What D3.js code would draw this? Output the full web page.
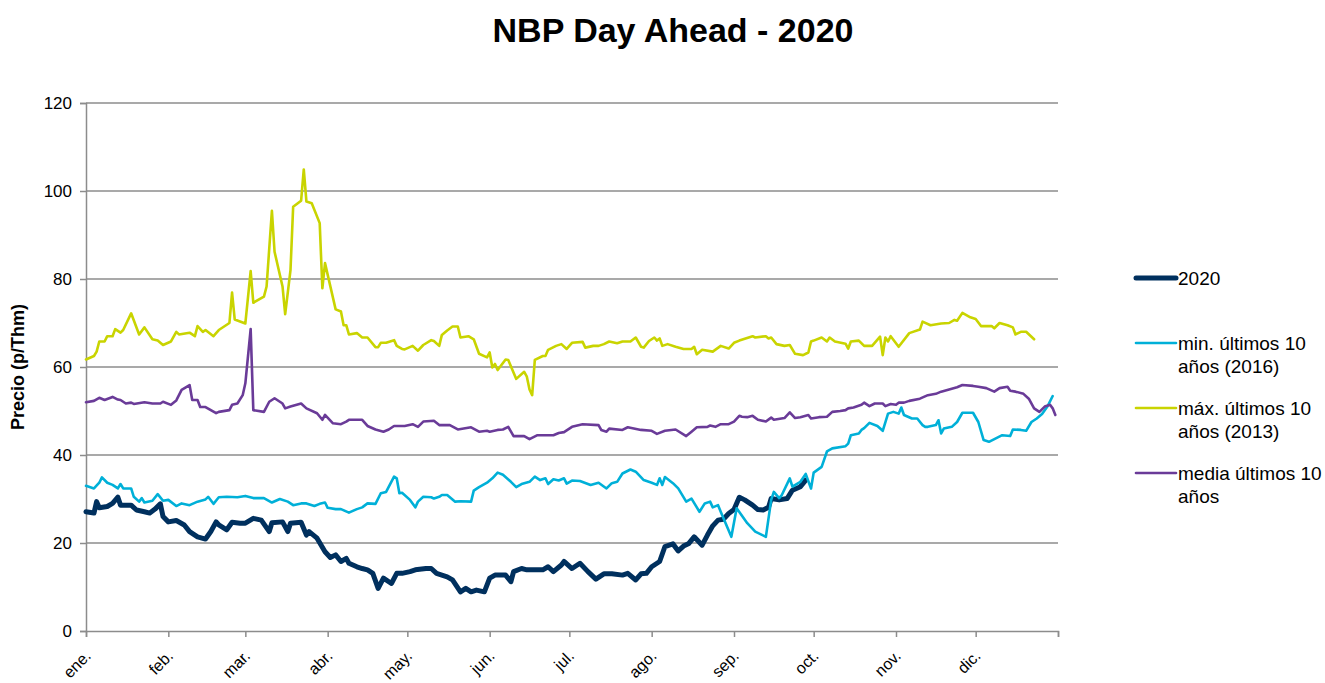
<!DOCTYPE html>
<html><head><meta charset="utf-8">
<script src="https://cdn.jsdelivr.net/npm/d3@7"></script>
<style>body{margin:0;background:#fff;font-family:"Liberation Sans",Arial,sans-serif}</style>
</head><body><svg id="c" width="1325" height="683"></svg>
<script>
// Day offsets from 1 Jan 2020 and prices (p/Thm)
const days2020 = [0,3,4,5,8,10,12,13,17,19,22,24,26,28,29,31,34,37,39,42,45,47,49,50,53,55,58,60,63,66,69,70,74,76,77,81,83,84,87,90,92,94,96,98,99,102,104,106,108,110,112,115,117,119,122,124,128,130,132,136,138,141,143,145,147,150,152,154,156,158,160,161,164,166,170,172,174,176,179,180,183,186,189,192,195,198,202,204,207,209,211,213,216,218,221,223,225,227,229,232,234,236,238,240,242,244,246,248,249,251,253,255,257,258,261,264,266,269,271];
const vals2020 = [27.1,26.8,29.4,28,28.3,29,30.4,28.6,28.6,27.5,27.1,26.8,27.7,28.9,26,24.8,25.1,24.1,22.6,21.4,20.9,22.6,24.8,24.1,23,24.7,24.5,24.5,25.6,25.2,22.6,24.6,24.8,22.6,24.5,24.7,21.8,22.6,21.1,18,16.7,17.3,15.8,16.5,15.4,14.6,14.2,13.9,13.1,9.7,12,10.8,13.1,13.1,13.5,13.9,14.2,14.2,13.1,12.3,11.6,8.9,9.7,8.9,9.3,8.9,12,12.7,12.7,12.7,11.2,13.5,14.2,13.9,13.9,13.9,14.6,13.5,15,15.8,14.2,15.4,13.5,11.8,13,13,12.7,13.1,11.6,13,13.1,14.6,15.8,19.2,19.8,18.2,19.3,19.9,21.4,19.5,21.8,23.9,25.2,25.4,26.7,27.6,30.4,29.8,29.4,28.6,27.6,27.5,28.1,30.1,29.8,30.1,32,32.8,34.3];

const daysMin = [0,3,5,6,8,10,12,13,14,17,18,20,21,22,25,27,29,31,34,36,39,42,45,46,48,50,53,57,60,63,67,70,73,76,78,81,83,86,88,90,91,94,96,99,102,104,106,109,111,113,116,117,118,119,122,124,125,127,130,131,133,134,136,139,141,145,146,148,151,153,155,157,160,162,164,167,169,171,173,174,176,178,180,181,183,186,190,193,196,198,200,202,205,207,210,213,215,216,217,218,221,223,226,228,231,233,235,236,238,239,243,245,249,252,256,258,259,261,262,265,266,269,271,273,274,277,279,281,286,287,288,291,292,293,295,298,300,302,304,306,307,308,311,313,315,316,317,320,321,322,323,326,328,330,334,336,338,340,345,348,349,352,354,356,358,360,362,364];
const valsMin = [33,32.4,33.7,34.9,33.7,33.2,32.4,33.4,32.4,32.4,30.5,29.4,30.2,29.2,29.6,31.1,29.6,29.8,28.4,29,28.6,29.4,29.9,30.5,28.9,30.4,30.5,30.4,30.7,30.2,30.2,29.2,30,29.4,28.6,29,29,28.4,28.9,29.2,28,27.7,27.7,26.9,27.7,28.1,29,28.9,31.3,31.6,35.1,34.7,31.3,31.4,29.8,28.1,29.4,30.5,30.4,30.1,30.5,30.9,30.9,29.4,29.5,29.4,31.9,32.7,33.7,34.7,36,35.5,33.9,32.7,33.4,33.9,35.1,34.3,34.7,33.4,34.5,34.2,34.7,33.5,34.2,34.1,33.2,33.7,32.4,33.6,33.9,35.8,36.7,36.2,34.3,33.7,33.2,34.7,33.2,35,33.6,32.4,29.4,30.1,27.1,29,29.4,28.1,28.6,27.1,21.4,27.9,24.5,22.6,21.4,29.8,31.6,30.2,30.9,34.7,32.8,33.9,35.7,32.4,36,37.3,40.8,41.5,42,42.6,44.5,44.9,45.7,46.1,47.3,46.6,45.5,49.4,49.8,49.4,50.8,49.1,48.3,48.3,46.8,46.4,46.4,46.8,47.9,44.9,46,46.4,47.5,49.6,49.6,47.5,43.4,43,44.5,44.3,45.8,45.7,45.5,47.5,48.3,49.3,51,53.4];

const daysMax = [0,3,4,5,7,8,10,11,13,14,17,20,22,25,27,29,32,34,35,39,41,42,44,45,48,50,54,55,56,60,62,63,67,68,70,71,74,75,77,78,81,82,83,85,88,89,90,94,96,97,98,99,102,104,106,109,110,111,113,116,117,119,120,123,125,127,130,131,133,134,136,138,140,141,144,146,148,151,152,153,154,155,158,159,162,165,166,167,168,169,172,173,174,177,179,181,183,187,188,191,193,195,197,200,202,205,207,209,210,212,214,215,216,217,219,222,225,228,229,230,232,236,239,242,244,246,251,252,256,257,258,260,263,265,267,270,272,273,274,277,279,280,282,286,287,288,291,293,296,299,300,301,302,303,306,310,314,315,318,322,325,327,328,330,333,335,337,341,342,344,347,349,350,352,354,357];
const valsMax = [61.7,62.5,63.5,65.8,65.8,67,67,68.6,67.8,68.4,72.2,67.4,69,66.3,66,65,65.8,68,67.4,67.8,67,69.3,68,68.4,67,68.4,70,76.9,70.8,69.9,81.8,74.6,76,78.3,95.5,86.2,78.3,72,82,96.4,97.8,104.9,97.6,97.2,92.7,77.9,83.6,73.1,72.6,69.5,69.5,67.4,67.7,66.7,66.7,64.5,64.5,65.5,65.5,66.1,64.8,64.1,64,64.8,63.7,65,66.1,65.9,64.8,67.3,68.3,69.2,69.2,66.7,67,66.3,63,62.2,63.3,59.9,60.7,59.3,61.7,61.6,57.3,58.9,57.8,54.9,53.6,61.6,62.5,62.5,63.9,64.8,65.2,64.1,65.5,65.7,64.4,64.8,64.8,65.2,65.8,65.4,65.8,65.8,66.7,64.6,64.4,65.9,66.7,66,66.5,64.8,65.2,64.6,64.1,64.1,64.6,62.9,63.9,63.5,64.8,64.2,65.5,66,67,66.7,67,66.5,66.7,65.2,64.8,65,63,62.7,63.3,65.8,66,66.7,65.8,66.7,65.8,65.3,64.2,65.8,66,64.8,64.8,66.9,62.7,66.7,65.8,67,64.6,67.7,68.5,70.3,69.5,69.9,70,70.7,70.5,72.3,71.3,70.9,69.3,69.3,68.8,70,69.5,69,67.4,68,68,66.3];

const daysAvg = [0,3,5,7,10,12,13,15,17,18,22,25,28,29,32,34,36,39,40,42,43,45,49,50,54,55,57,59,60,62,63,67,69,71,74,75,77,81,83,87,89,90,93,96,98,99,104,106,109,112,114,116,120,123,125,127,131,133,137,140,145,148,151,152,155,157,159,161,165,167,170,176,178,180,183,187,193,194,196,197,202,204,209,213,215,218,222,226,228,230,234,235,237,239,242,244,246,247,249,251,253,256,258,259,263,265,267,269,272,273,276,279,281,284,286,287,289,292,293,295,297,300,301,303,305,306,308,310,314,317,320,322,325,328,330,334,336,339,342,344,347,348,350,353,355,357,359,361,363,364,365];
const valsAvg = [52,52.3,53,52.5,53.2,52.6,52.5,51.7,51.9,51.6,52,51.7,51.7,52.1,51.4,52.4,54.8,55.9,52.5,52.5,50.9,50.9,49.5,49.8,50.2,51.4,51.7,53.6,56.3,68.6,50.2,49.8,52.1,52.9,51.7,50.6,51,51.7,50.6,49.5,48,49.1,47.2,47,47.6,48,48,46.6,45.8,45.3,45.8,46.6,46.6,47,46.4,47.6,47.8,46.8,46.8,45.8,46.3,45.3,45.5,45.3,45.7,45.8,46.4,44.3,44.3,43.6,44.5,44.5,45,45.2,46.4,47,46.8,45.7,45.3,46,45.7,46.3,45.7,45.5,44.8,45.5,45.8,44.3,45.3,46.3,46.4,46.7,46.4,47,47,47.6,48.9,48.7,48.6,48.9,48,47.6,48.5,48,48.4,49.7,48.4,48.6,49.1,48.3,48.6,48.7,49.8,50,50.2,50.6,50.8,51.4,51.9,51.1,51.7,51.7,51.1,51.6,51.4,51.9,51.9,52.3,52.8,53.6,53.9,54.4,54.9,55.4,55.9,55.7,55.5,55.2,54.4,55.2,55.5,54.6,54.4,53.9,52.8,50.6,49.8,51,51.4,50.6,49.1];

const monthLabels = ["ene.","feb.","mar.","abr.","may.","jun.","jul.","ago.","sep.","oct.","nov.","dic."];
const yTicks = [0,20,40,60,80,100,120];
const legendLines = [["2020"],["min. últimos 10","años (2016)"],["máx. últimos 10","años (2013)"],["media últimos 10","años"]];

const start = new Date(2020,0,1), end = new Date(2021,0,1);
const toDate = d => d3.timeDay.offset(start, d);

const svg = d3.select("#c");
const L = 86, R = 1058, T = 103, B = 631;
const x = d3.scaleTime().domain([start,end]).range([L,R]);
const y = d3.scaleLinear().domain([0,120]).range([B,T]);

svg.append("text").attr("x",673).attr("y",42).attr("text-anchor","middle")
  .attr("font-size",34).attr("font-weight","bold").text("NBP Day Ahead - 2020");

// gridlines
svg.append("g").selectAll("line").data(yTicks.filter(v=>v>0)).join("line")
  .attr("x1",L).attr("x2",R).attr("y1",d=>y(d)).attr("y2",d=>y(d))
  .attr("stroke","#8c8c8c").attr("stroke-width",1.5);

// y axis
const ya = svg.append("g").attr("transform",`translate(${L},0)`)
  .call(d3.axisLeft(y).tickValues(yTicks).tickSize(6).tickPadding(8));
ya.select(".domain").attr("stroke","#8c8c8c").attr("stroke-width",1.5);
ya.selectAll(".tick line").attr("stroke","#8c8c8c").attr("stroke-width",1.5);
ya.selectAll("text").attr("font-size",17).attr("font-family","Liberation Sans, Arial").attr("fill","#000");

// x axis
const months = d3.timeMonth.range(start, d3.timeDay.offset(end,1));
const xa = svg.append("g").attr("transform",`translate(0,${B})`)
  .call(d3.axisBottom(x).tickValues(months).tickSize(6).tickFormat(""));
xa.select(".domain").attr("stroke","#8c8c8c").attr("stroke-width",1.5);
xa.selectAll(".tick line").attr("stroke","#8c8c8c").attr("stroke-width",1.5);
svg.append("g").selectAll("text").data(monthLabels).join("text")
  .attr("transform",(d,i)=>`translate(${x(months[i])-2},${B+18}) rotate(-45)`)
  .attr("text-anchor","end").attr("dy","0.7em").attr("font-size",16).text(d=>d);

svg.append("text").attr("transform","translate(24,367) rotate(-90)").attr("text-anchor","middle")
  .attr("font-size",18).attr("font-weight","bold").text("Precio (p/Thm)");

const colors = ["#00305e","#00b0d8","#c9d400","#6a3b98"];
const widths = [5,2.6,2.6,2.6];
const series = [[days2020,vals2020],[daysMin,valsMin],[daysMax,valsMax],[daysAvg,valsAvg]];
const line = d3.line().x(p=>x(toDate(p[0]))).y(p=>y(p[1]));
series.forEach(([ds,vs],i)=>{
  svg.append("path").datum(ds.map((d,j)=>[d,vs[j]])).attr("d",line)
    .attr("fill","none").attr("stroke",colors[i]).attr("stroke-width",widths[i])
    .attr("stroke-linejoin","round").attr("stroke-linecap","round");
});

// legend
const legY = [278,343,408,473];
const lg = svg.append("g");
legendLines.forEach((lines,i)=>{
  lg.append("line").attr("x1",1136).attr("x2",1176).attr("y1",legY[i]).attr("y2",legY[i])
    .attr("stroke",colors[i]).attr("stroke-width",widths[i]).attr("stroke-linecap","round");
  lines.forEach((t,k)=>lg.append("text").attr("x",1178).attr("y",legY[i]+7+k*23)
    .attr("font-size",19).text(t));
});
</script></body></html>
